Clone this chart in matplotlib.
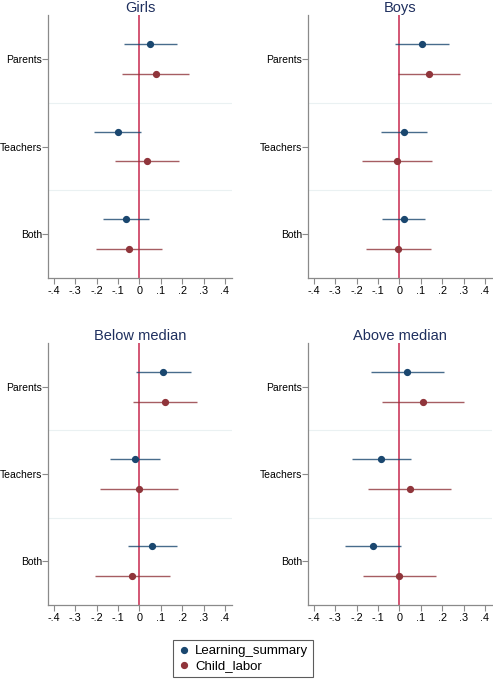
import numpy as np
import matplotlib.pyplot as plt
from matplotlib.lines import Line2D

plt.rcParams['font.family'] = ['Liberation Sans', 'DejaVu Sans']

# outcome categories and panels
groups = ['Parents', 'Teachers', 'Both']
panels = ['Girls', 'Boys', 'Below median', 'Above median']

# point estimates and CIs, one list per panel (Parents, Teachers, Both)
learn_est = {'Girls': [0.050, -0.102, -0.064],
             'Boys': [0.107, 0.022, 0.019],
             'Below median': [0.112, -0.023, 0.060],
             'Above median': [0.036, -0.085, -0.126]}
learn_lo = {'Girls': [-0.074, -0.211, -0.171],
            'Boys': [-0.019, -0.085, -0.081],
            'Below median': [-0.017, -0.136, -0.053],
            'Above median': [-0.135, -0.223, -0.254]}
learn_hi = {'Girls': [0.174, 0.009, 0.043],
            'Boys': [0.234, 0.130, 0.118],
            'Below median': [0.243, 0.095, 0.174],
            'Above median': [0.209, 0.053, 0.005]}

child_est = {'Girls': [0.076, 0.034, -0.050],
             'Boys': [0.140, -0.012, -0.006],
             'Below median': [0.119, -0.003, -0.034],
             'Above median': [0.110, 0.047, 0.000]}
child_lo = {'Girls': [-0.081, -0.116, -0.202],
            'Boys': [-0.005, -0.174, -0.158],
            'Below median': [-0.028, -0.183, -0.206],
            'Above median': [-0.082, -0.146, -0.171]}
child_hi = {'Girls': [0.234, 0.184, 0.104],
            'Boys': [0.284, 0.150, 0.147],
            'Below median': [0.267, 0.178, 0.143],
            'Above median': [0.302, 0.239, 0.169]}

xticks = [-0.4, -0.3, -0.2, -0.1, 0, 0.1, 0.2, 0.3, 0.4]
xticklabels = ['-.4', '-.3', '-.2', '-.1', '0', '.1', '.2', '.3', '.4']

blue = '#1a476f'
red = '#90353b'
zero_col = '#cc3a5c'
spine_col = '#8a8a8a'
title_col = '#1e2f5e'

W, H = 493, 685
fig = plt.figure(figsize=(W / 100, H / 100), dpi=100)

# axes boxes in pixels: left, top, width, height
boxes = [(48, 15, 184, 263), (308, 15, 184, 263),
         (48, 343, 184, 262), (308, 343, 184, 262)]

ypos = np.arange(1, len(groups) + 1)
off = 0.17

for name, (l, t, w, h) in zip(panels, boxes):
    ax = fig.add_axes([l / W, 1 - (t + h) / H, w / W, h / H])
    ax.axvline(0, color=zero_col, lw=1.2, zorder=1)
    for s in [1.5, 2.5]:
        ax.axhline(s, color='#eaf1f2', lw=0.8, zorder=0)
    # learning summary
    ax.hlines(ypos - off, learn_lo[name], learn_hi[name], color=blue, lw=1.0, alpha=0.8, zorder=2)
    ax.plot(learn_est[name], ypos - off, 'o', color=blue, ms=4.2, zorder=3)
    # child labor
    ax.hlines(ypos + off, child_lo[name], child_hi[name], color=red, lw=1.0, alpha=0.8, zorder=2)
    ax.plot(child_est[name], ypos + off, 'o', color=red, ms=4.2, zorder=3)

    ax.set_ylim(3.5, 0.5)
    ax.set_xlim(-0.428, 0.433)
    ax.set_yticks(ypos)
    ax.set_yticklabels(groups, fontsize=7.5)
    ax.set_xticks(xticks)
    ax.set_xticklabels(xticklabels, fontsize=7.8)
    ax.tick_params(axis='both', color=spine_col, length=4, width=0.8, pad=1.5)
    ax.tick_params(axis='y', pad=0.3)
    for sp in ['top', 'right']:
        ax.spines[sp].set_visible(False)
    for sp in ['left', 'bottom']:
        ax.spines[sp].set_color(spine_col)
        ax.spines[sp].set_linewidth(0.9)
    ax.set_title(name, fontsize=10.5, color=title_col, pad=1)

handles = [Line2D([], [], marker='o', ls='', color=blue, ms=4.2),
           Line2D([], [], marker='o', ls='', color=red, ms=4.2)]
leg = fig.legend(handles, ['Learning_summary', 'Child_labor'],
                 loc='lower left', bbox_to_anchor=(166 / W, 1 - 684 / H),
                 fontsize=9.5, frameon=True, fancybox=False, handletextpad=0.3,
                 handlelength=1.0, borderpad=0.4, labelspacing=0.2)
leg.get_frame().set_edgecolor('#333333')
leg.get_frame().set_linewidth(0.8)

fig.savefig('out.png', dpi=100)
